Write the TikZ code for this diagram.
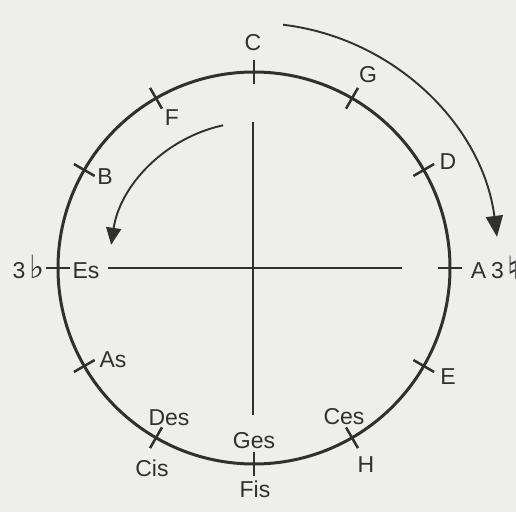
\documentclass[tikz,border=0pt]{standalone}
\usepackage{fontspec}
\setmainfont{Liberation Sans}
\newfontfamily\symfont{DejaVu Sans}
\usetikzlibrary{arrows.meta,calc}
\definecolor{bgc}{RGB}{238,238,236}
\definecolor{ink}{RGB}{48,48,48}
\tikzset{
  lbl/.style={inner sep=0pt, text=ink, font=\fontsize{23}{25}\selectfont},
  sym/.style={inner sep=0pt, text=ink, font=\symfont\fontsize{32}{34}\selectfont},
  ring/.style={draw=ink, line width=3pt},
  tick/.style={draw=ink, line width=2.5pt},
  axis/.style={draw=ink, line width=1.3pt},
  turn/.style={draw=ink, line width=1.9pt}
}
\begin{document}
\begin{tikzpicture}[x=1pt,y=1pt]
\fill[bgc] (0,0) rectangle (516,512);
\useasboundingbox (0,0) rectangle (516,512);
\coordinate (O) at (254,244);
% circle
\draw[ring] (O) circle[radius=196];
% axes
\coordinate (hl) at (108,244);
\coordinate (hr) at (402,244);
\coordinate (vt) at (253,390);
\coordinate (vb) at (253,97);
\draw[axis] (hl) -- (hr);
\draw[axis] (vt) -- (vb);
% ticks
\foreach \a in {0,30,...,330}{
  \draw[tick] ($(O)+(\a:184)$) -- ($(O)+(\a:208)$);
}
% arrows
\coordinate (os) at ($(O)+(83.2:245)$);
\draw[turn, -{Triangle[length=21pt,width=17pt]}] (os) arc[start angle=83.2, end angle=7.3, radius=245];
\coordinate (is) at ($(O)+(102.2:146)$);
\draw[turn, -{Triangle[length=17pt,width=15pt]}] (is) arc[start angle=102.2, end angle=171.5, radius=144];
% labels
\node[lbl] (C) at (253,469) {C};
\node[lbl] (G) at (368,437) {G};
\node[lbl] (D) at (448,350) {D};
\node[lbl] (A) at (478.5,241) {A};
\node[lbl] (A3) at (497.5,241) {3};
\node[sym, anchor=west] (nat) at (507,244) {♮};
\node[lbl] (E) at (448,135) {E};
\node[lbl] (Ces) at (344,95.5) {Ces};
\node[lbl] (H) at (366,47) {H};
\node[lbl] (Ges) at (254,71) {Ges};
\node[lbl] (Fis) at (255,23) {Fis};
\node[lbl] (Des) at (169,94) {Des};
\node[lbl] (Cis) at (152,44) {Cis};
\node[lbl] (As) at (113,152) {As};
\node[lbl] (Es) at (86,241) {Es};
\node[lbl] (three) at (19,241) {3};
\node[sym] (flat) at (37.5,245) {♭};
\node[lbl] (B) at (105,335) {B};
\node[lbl] (F) at (172,394) {F};
\end{tikzpicture}
\end{document}
